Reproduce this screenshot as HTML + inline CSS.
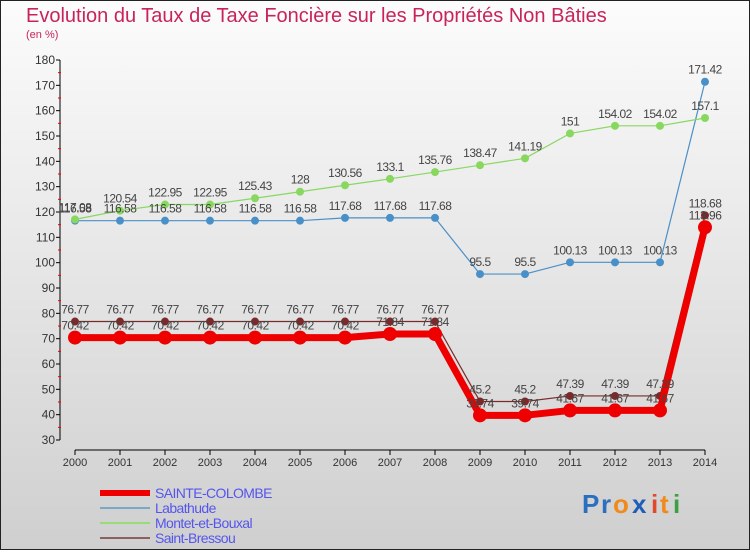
<!DOCTYPE html>
<html><head><meta charset="utf-8"><style>
html,body{margin:0;padding:0}
body{width:750px;height:550px;overflow:hidden;font-family:"Liberation Sans",sans-serif}
svg text{font-family:"Liberation Sans",sans-serif}
</style></head><body>
<svg id="chart" width="750" height="550" viewBox="0 0 750 550" xmlns="http://www.w3.org/2000/svg">
<defs><linearGradient id="bg" x1="0" y1="0" x2="0" y2="1"><stop offset="0" stop-color="#fcfcfc"/><stop offset="1" stop-color="#cfcfcf"/></linearGradient></defs>
<rect x="0.5" y="0.5" width="749" height="549" fill="url(#bg)" stroke="#222"/>
<text x="26" y="22" font-size="20" fill="#c8245a">Evolution du Taux de Taxe Foncière sur les Propriétés Non Bâties</text>
<text x="26" y="38" font-size="11" fill="#c8245a">(en %)</text>
<g id="axes"></g>
<g id="series"></g>
<g id="labels"></g>
<g id="legend"></g>
<g font-size="26" font-weight="bold">
<text x="582" y="513" fill="#2a6fc0">P</text><text x="601" y="513" fill="#2a6fc0">r</text><text x="613" y="513" fill="#f08a1c">o</text><text x="632" y="513" fill="#1d5fb8">x</text><text x="651" y="513" fill="#e04a2a">i</text><text x="660" y="513" fill="#f08a1c">t</text><text x="673" y="513" fill="#3aa040">i</text>
</g>
</svg>
<script>
const years=[2000,2001,2002,2003,2004,2005,2006,2007,2008,2009,2010,2011,2012,2013,2014];
const sainteColombe=[70.42,70.42,70.42,70.42,70.42,70.42,70.42,71.84,71.84,39.74,39.74,41.67,41.67,41.67,113.96];
const labathude=[116.58,116.58,116.58,116.58,116.58,116.58,117.68,117.68,117.68,95.5,95.5,100.13,100.13,100.13,171.42];
const montet=[117.08,120.54,122.95,122.95,125.43,128,130.56,133.1,135.76,138.47,141.19,151,154.02,154.02,157.1];
const bressou=[76.77,76.77,76.77,76.77,76.77,76.77,76.77,76.77,76.77,45.2,45.2,47.39,47.39,47.39,118.68];
const yTicks=[30,40,50,60,70,80,90,100,110,120,130,140,150,160,170,180];
const NS="http://www.w3.org/2000/svg";
const x0=75,x1=705,yMin=30,yMax=180,py0=440,py1=60;
function xs(i){return x0+(x1-x0)*i/(years.length-1);}
function ys(v){return py0-(v-yMin)/(yMax-yMin)*(py0-py1);}
function mk(tag,attrs,parent){const e=document.createElementNS(NS,tag);for(const k in attrs)e.setAttribute(k,attrs[k]);parent.appendChild(e);return e;}
const axes=document.getElementById('axes');
let a=mk('line',{x1:60,y1:60,x2:60,y2:440,stroke:'#000'},axes);


a=mk('line',{x1:75,y1:450,x2:705,y2:450,stroke:'#000'},axes);


yTicks.forEach(v=>{
  const y=ys(v);
  mk('line',{x1:56,y1:y,x2:60,y2:y,stroke:'#000'},axes);
  if(v<180){const m=mk('line',{x1:58,y1:ys(v+5),x2:61,y2:ys(v+5),stroke:'#e00'},axes);}
  const t=mk('text',{x:55,y:y+4,'font-size':12,'text-anchor':'end',fill:'#333'},axes);
  t.textContent=v;
  
  
});
years.forEach((yr,i)=>{
  const x=xs(i);
  mk('line',{x1:x,y1:450,x2:x,y2:455,stroke:'#000'},axes);
  const t=mk('text',{x:x,y:466,'font-size':11,'text-anchor':'middle',fill:'#333'},axes);
  t.textContent=yr;
  
  
});
const sg=document.getElementById('series'),lg=document.getElementById('labels');
function draw(vals,color,w,r,name){
  const pts=vals.map((v,i)=>xs(i)+','+ys(v)).join(' ');
  const p=mk('polyline',{points:pts,fill:'none',stroke:color,'stroke-width':w,'stroke-linejoin':'round'},sg);
  
  
  vals.forEach((v,i)=>{
    const c=mk('circle',{cx:xs(i),cy:ys(v),r:r,fill:color},sg);
    
    
    const t=mk('text',{x:xs(i),y:ys(v)-8,'font-size':12,'text-anchor':'middle',fill:'#444','letter-spacing':'-0.5'},lg);
    t.textContent=String(v);
    
    
  });
}
draw(labathude,'#4a90c8',1.2,4,'labathude');
draw(montet,'#88d860',1.2,4,'montet-et-bouxal');
draw(bressou,'#7a2a2a',1.2,4,'saint-bressou');
draw(sainteColombe,'#ee0000',7,7,'sainte-colombe');
const leg=document.getElementById('legend');
[['SAINTE-COLOMBE','#ee0000',6],['Labathude','#7aa8c8',2],['Montet-et-Bouxal','#98dc78',2],['Saint-Bressou','#8a6060',2]].forEach((e,i)=>{
  const y=493+i*15;
  const l=mk('line',{x1:100,y1:y,x2:150,y2:y,stroke:e[1],'stroke-width':e[2]},leg);
  
  
  const t=mk('text',{x:155,y:y+5,'font-size':14,fill:'#5555ee','letter-spacing':'-0.6'},leg);
  t.textContent=e[0];
  
  
});
</script>
</body></html>
